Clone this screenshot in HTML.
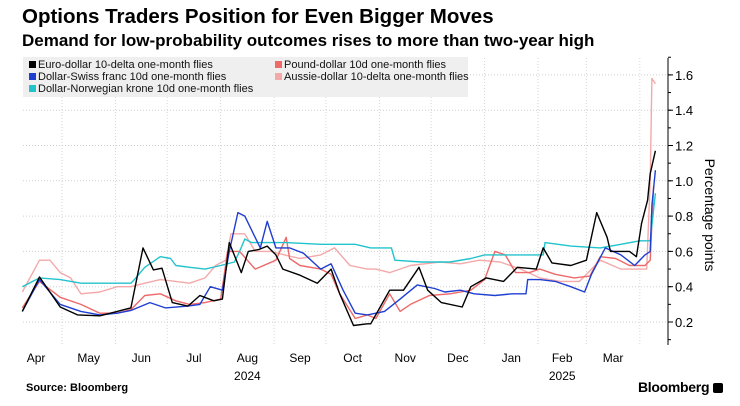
<!DOCTYPE html>
<html><head><meta charset="utf-8">
<style>
body{margin:0;background:#fff;font-family:"Liberation Sans","DejaVu Sans",sans-serif;}
#wrap{position:relative;width:740px;height:406px;overflow:hidden;background:#fff}
.t{position:absolute;white-space:nowrap;color:#000}
</style></head>
<body>
<div id="wrap">
<div class="t" style="left:22px;top:5px;font-size:20.5px;font-weight:bold;">Options Traders Position for Even Bigger Moves</div>
<div class="t" style="left:22px;top:31px;font-size:17px;font-weight:bold;">Demand for low-probability outcomes rises to more than two-year high</div>
<svg id="chart" width="740" height="406" style="position:absolute;left:0;top:0"></svg>
<div class="t" style="left:26px;top:382px;font-size:11px;font-weight:bold;">Source: Bloomberg</div>
<div class="t" style="left:638px;top:379px;font-size:14px;font-weight:bold;letter-spacing:-0.3px">Bloomberg <span style="display:inline-block;width:10px;height:10px;background:#000;border-radius:2px;vertical-align:-1px"></span></div>
</div>
<script>
const months=["Apr","May","Jun","Jul","Aug","Sep","Oct","Nov","Dec","Jan","Feb","Mar"];
const monthStartDays=[0,30,61,91,122,153,183,214,244,275,306,334,365];
const yearLabels=["2024","2025"];
const yTicks=[0.2,0.4,0.6,0.8,1.0,1.2,1.4,1.6];
const seriesNames=["Euro-dollar 10-delta one-month flies","Dollar-Swiss franc 10d one-month flies","Dollar-Norwegian krone 10d one-month flies","Pound-dollar 10d one-month flies","Aussie-dollar 10-delta one-month flies"];
const eurDays=[7,17,29,39,52,62,70,77,83,88,94,103,110,118,123,127,134,138,144,149,154,158,168,178,186,191,199,207,209,220,228,237,242,250,262,267,276,286,294,305,309,314,325,334,340,346,348,359,363,366,369.5,371,374];
const eurVals=[0.26,0.455,0.285,0.24,0.235,0.26,0.28,0.62,0.495,0.505,0.31,0.29,0.35,0.32,0.33,0.65,0.48,0.6,0.61,0.63,0.58,0.5,0.465,0.42,0.5,0.36,0.18,0.19,0.19,0.38,0.38,0.51,0.38,0.31,0.285,0.4,0.45,0.43,0.51,0.5,0.62,0.535,0.52,0.55,0.82,0.68,0.6,0.6,0.57,0.76,0.89,1.04,1.17];
const chfDays=[7,17,29,41,52,62,70,81,90,103,110,116,123,127,132,136,141,145,149,154,162,170,180,186,193,200,207,212,217,226,236,246,252,261,269,281,291,299,300,307,316,325,333,337,345,354,362,368,371,372,374];
const chfVals=[0.26,0.44,0.3,0.26,0.24,0.25,0.265,0.31,0.28,0.29,0.3,0.4,0.38,0.6,0.82,0.8,0.7,0.62,0.77,0.62,0.62,0.59,0.5,0.53,0.38,0.25,0.24,0.25,0.26,0.33,0.41,0.39,0.37,0.38,0.36,0.35,0.36,0.36,0.44,0.44,0.43,0.4,0.37,0.47,0.62,0.58,0.52,0.58,0.6,0.86,1.06];
const nokDays=[7,17,29,41,52,70,72,78,87,93,96,104,113,122,130,133,136,140,160,180,200,209,221,223,238,255,267,275,290,301,309,310,325,342,354,365,371,374];
const nokVals=[0.4,0.45,0.44,0.42,0.42,0.42,0.44,0.51,0.57,0.56,0.52,0.51,0.5,0.52,0.54,0.6,0.67,0.65,0.65,0.64,0.64,0.62,0.62,0.55,0.54,0.54,0.56,0.58,0.58,0.58,0.58,0.65,0.63,0.62,0.64,0.66,0.66,0.93];
const gbpDays=[7,17,29,41,52,62,70,78,87,96,104,113,122,126,133,142,154,160,162,168,180,186,191,200,207,212,220,226,232,243,255,267,275,281,287,293,301,307,316,327,336,342,351,359,368,371,373];
const gbpVals=[0.28,0.43,0.34,0.3,0.25,0.25,0.27,0.35,0.36,0.32,0.3,0.31,0.33,0.6,0.6,0.5,0.55,0.68,0.56,0.52,0.5,0.47,0.36,0.22,0.24,0.22,0.36,0.26,0.3,0.35,0.36,0.38,0.44,0.6,0.58,0.48,0.48,0.5,0.47,0.45,0.46,0.57,0.56,0.52,0.52,0.55,0.97];
const audDays=[7,17,23,29,35,41,52,62,70,78,87,96,104,113,119,125,128,136,142,151,159,168,180,188,197,207,212,220,232,249,261,272,284,296,307,319,330,342,354,365,369,371,372,374];
const audVals=[0.37,0.55,0.55,0.48,0.45,0.36,0.37,0.4,0.4,0.42,0.44,0.43,0.42,0.45,0.52,0.55,0.7,0.7,0.6,0.6,0.58,0.56,0.58,0.62,0.52,0.5,0.5,0.48,0.52,0.54,0.53,0.55,0.54,0.5,0.45,0.43,0.43,0.55,0.5,0.5,0.5,1.0,1.58,1.55];
const colors=["#000000","#1f3fd0","#22c3cc","#ee6a6a","#f4a9a9"];

const NS="http://www.w3.org/2000/svg";
const svg=document.getElementById('chart');
const X0=10.2,XS=1.725,PL=23,PR=668,PT=58,PB=345;
function xs(d){return X0+XS*d;}
function ys(v){return 322-(v-0.2)*176.5;}
function mk(tag,attrs,parent){const e=document.createElementNS(NS,tag);for(const k in attrs)e.setAttribute(k,attrs[k]);(parent||svg).appendChild(e);return e;}

yTicks.forEach(v=>{
  const g=mk('line',{x1:PL,x2:PR,y1:ys(v),y2:ys(v),stroke:'#cfcfcf','stroke-width':1,'stroke-dasharray':'1,2'});
  
  
  const tk=mk('line',{x1:PR,x2:PR+5,y1:ys(v),y2:ys(v),stroke:'#000'});
  
  
  const t=mk('text',{x:PR+7,y:ys(v)+5,'font-size':13,'font-family':'Liberation Sans, sans-serif',fill:'#000'});
  t.textContent=v.toFixed(1);
  
  
});
for(let v=0.1;v<=1.75;v+=0.1){const m=mk('line',{x1:PR,x2:PR+3,y1:ys(v),y2:ys(v),stroke:'#000'});

}
monthStartDays.slice(1).forEach(d=>{
  const g=mk('line',{x1:xs(d),x2:xs(d),y1:PT,y2:PB,stroke:'#d6d6d6','stroke-width':1,'stroke-dasharray':'1,2'});
  
  
});
months.forEach((m,i)=>{
  const mid=(monthStartDays[i]+monthStartDays[i+1])/2;
  const t=mk('text',{x:xs(mid),y:362,'text-anchor':'middle','font-size':12,'font-family':'Liberation Sans, sans-serif',fill:'#000'});
  t.textContent=m;
  
  
});
[[4,0],[10,1]].forEach(([mi,yi])=>{
  const mid=(monthStartDays[mi]+monthStartDays[mi+1])/2;
  const t=mk('text',{x:xs(mid),y:380,'text-anchor':'middle','font-size':12,'font-family':'Liberation Sans, sans-serif',fill:'#000'});
  t.textContent=yearLabels[yi];
  
  
});
const ax=mk('line',{x1:PR,x2:PR,y1:PT,y2:PB,stroke:'#000'});


const yt=mk('text',{x:0,y:0,'font-size':14,'font-family':'Liberation Sans, sans-serif',fill:'#000','text-anchor':'middle',transform:'translate(705,215) rotate(90)'});
yt.textContent='Percentage points';



const lg=mk('rect',{x:23,y:57,width:445,height:40,fill:'#efefef'});


const legPos=[[29,68],[29,80],[29,92],[275,68],[275,80]];
seriesNames.forEach((n,i)=>{
  const [lx,ly]=legPos[i];
  const sw=mk('rect',{x:lx,y:ly-7,width:7,height:7,fill:colors[i]});
  
  
  const t=mk('text',{x:lx+9,y:ly,'font-size':11,'font-family':'Liberation Sans, sans-serif',fill:'#111'});
  t.textContent=n;
  
  
});

const all=[[audDays,audVals,4,'aussie-dollar-line'],[gbpDays,gbpVals,3,'pound-dollar-line'],[nokDays,nokVals,2,'dollar-nok-line'],[chfDays,chfVals,1,'dollar-chf-line'],[eurDays,eurVals,0,'euro-dollar-line']];
all.forEach(([ds,vs,ci,name])=>{
  const d=ds.map((dd,i)=>(i?'L':'M')+xs(dd).toFixed(1)+','+ys(vs[i]).toFixed(1)).join(' ');
  const p=mk('path',{d:d,fill:'none',stroke:colors[ci],'stroke-width':1.4,'stroke-linejoin':'round'});
  
  
});
</script>
</body></html>
